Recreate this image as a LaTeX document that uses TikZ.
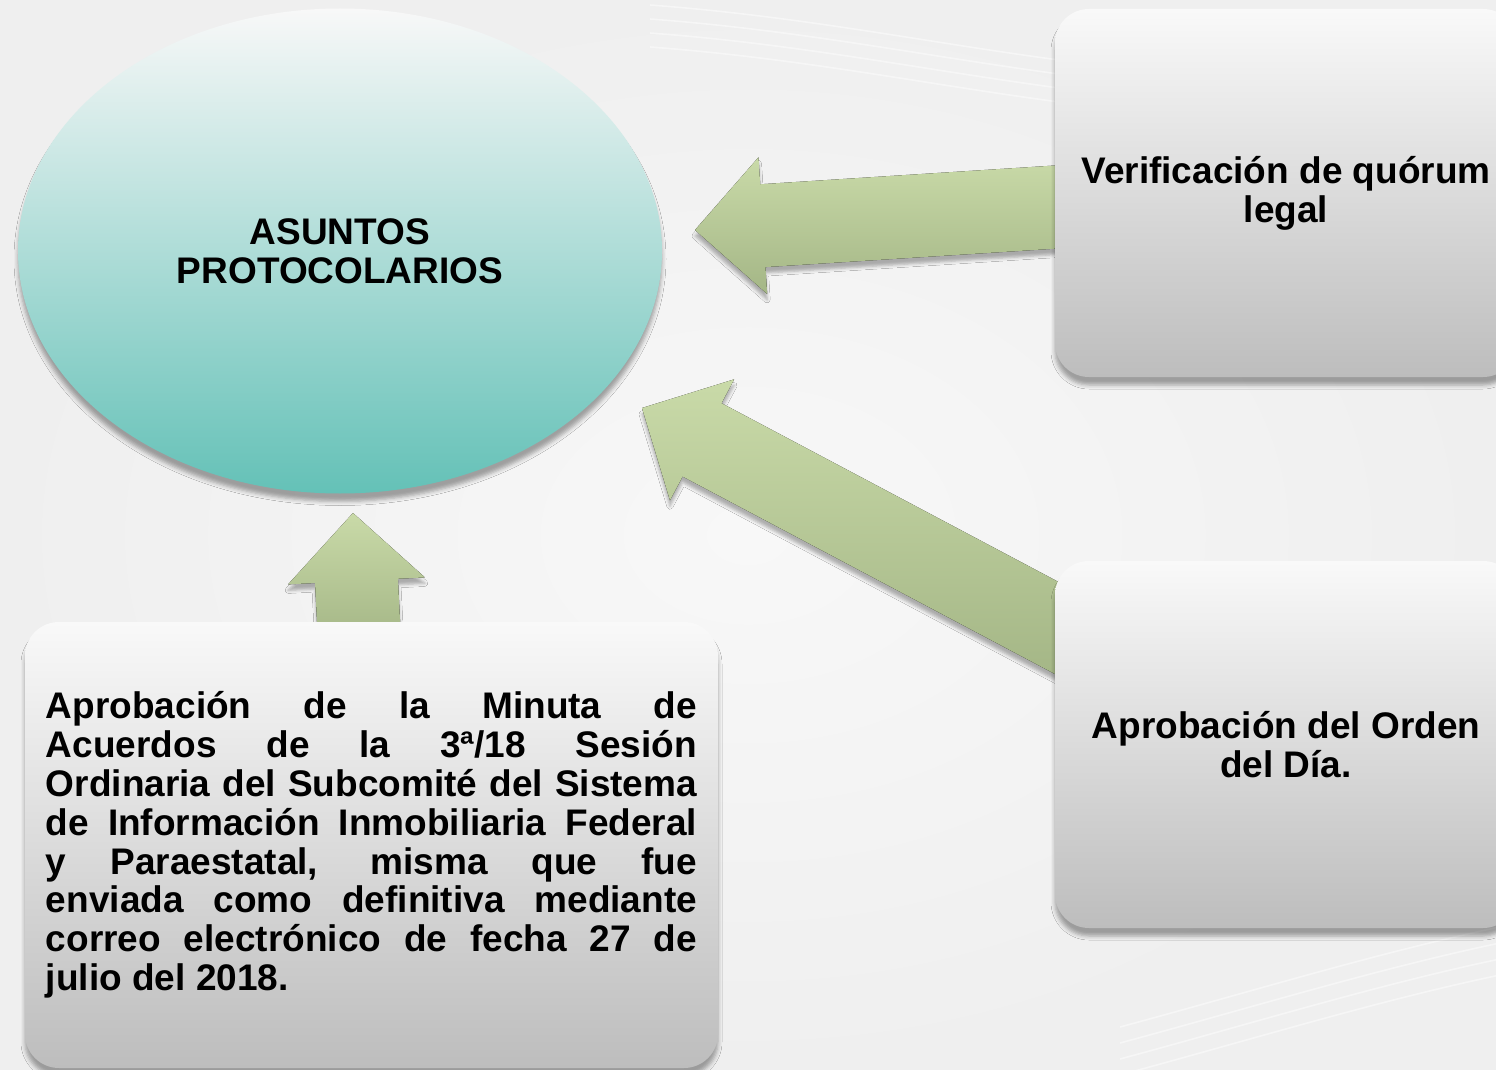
\documentclass[tikz,border=0pt]{standalone}
\usepackage{fontspec}
\setmainfont{Liberation Sans}
\usetikzlibrary{calc,shapes.geometric,shadows.blur}
\tolerance=10000 \hbadness=10000 \hyphenpenalty=10000

\definecolor{fondo}{RGB}{239,239,239}
\definecolor{fondoclaro}{RGB}{248,248,248}
\definecolor{verdeclaro}{RGB}{201,218,168}
\definecolor{verdeoscuro}{RGB}{164,182,134}
\definecolor{cajaclaro}{RGB}{249,249,249}
\definecolor{cajaoscuro}{RGB}{189,189,189}
\definecolor{aguaclaro}{RGB}{248,248,248}
\definecolor{aguamedio}{RGB}{202,231,227}
\definecolor{aguaoscuro}{RGB}{100,193,183}

\newcommand{\letra}{\fontsize{18.5pt}{19.4pt}\selectfont\bfseries}
% block arrow from #1 (tail) to #2 (tip)
\newcommand{\flecha}[2]{%
  \fill[flechaverde] ($(#1)!20.75pt!90:(#2)$) -- ($(#2)!34pt!(#1)!20.75pt!90:(#2)$) -- ($(#2)!34pt!(#1)!34.25pt!90:(#2)$) -- (#2) -- ($(#2)!34pt!(#1)!34.25pt!-90:(#2)$) -- ($(#2)!34pt!(#1)!20.75pt!-90:(#2)$) -- ($(#1)!20.75pt!-90:(#2)$) -- cycle;}

\begin{document}
\begin{tikzpicture}[x=0.5pt,y=0.5pt,yscale=-1,xscale=1,
  caja/.style={rectangle, rounded corners=17pt, top color=cajaclaro, bottom color=cajaoscuro, minimum width=231pt, minimum height=184pt, align=center, font=\letra, blur shadow={shadow xshift=0pt, shadow yshift=-4pt, shadow blur radius=2pt, shadow opacity=35}},
  elipse/.style={ellipse, inner sep=0pt, minimum width=322pt, minimum height=242.5pt, top color=aguaclaro, middle color=aguamedio, bottom color=aguaoscuro, align=center, font=\letra, blur shadow={shadow xshift=0pt, shadow yshift=-4pt, shadow blur radius=2pt, shadow opacity=35}},
  flechaverde/.style={top color=verdeclaro, bottom color=verdeoscuro, blur shadow={shadow xshift=0pt, shadow yshift=-3pt, shadow blur radius=1.5pt, shadow opacity=30}},
  raya/.style={white, line width=0.8pt, opacity=0.45}]
\useasboundingbox (0,0) rectangle (1496,1070);
\clip (0,0) rectangle (1496,1070);

%Shape: Background
\fill[inner color=fondoclaro, outer color=fondo] (0,0) rectangle (1496,1070);
%Curve Lines: swooshes
\foreach \k in {0,1,2,3} {
  \draw[raya] (650,{5+14*\k}) .. controls (850,{20+14*\k}) and (1000,{60+14*\k}) .. (1200,{75+14*\k});
  \draw[raya] (1120,{1075-16*\k}) .. controls (1250,{1040-16*\k}) and (1380,{1000-16*\k}) .. (1500,{975-16*\k});
}

%Shape: Ellipse
\node[elipse] (asuntos) at (340,251) {ASUNTOS\\PROTOCOLARIOS};

%Block Arrows
\coordinate (colaQ) at (1080,205.5);
\coordinate (puntaQ) at (695,230);
\coordinate (colaO) at (1085,643);
\coordinate (puntaO) at (642,408);
\coordinate (colaM) at (359.5,640);
\coordinate (puntaM) at (353,513);
\flecha{colaQ}{puntaQ}
\flecha{colaO}{puntaO}
\flecha{colaM}{puntaM}

%Shape: Rounded Rect
\node[caja] (quorum) at (1286,193) {Verificación de quórum\\legal};
%Shape: Rounded Rect
\node[caja, minimum height=183.5pt] (orden) at (1286,744.5) {Aprobación del Orden\\del Día.};
%Shape: Rounded Rect
\node[caja, minimum width=346.5pt, minimum height=223pt, text width=325.5pt, align=justify] (minuta) at (371.5,845) {Aprobación de la Minuta de\linebreak Acuerdos de la 3ª/18 Sesión\linebreak Ordinaria del Subcomité del Sistema\linebreak de Información Inmobiliaria Federal\linebreak y Paraestatal, misma que fue\linebreak enviada como definitiva mediante\linebreak correo electrónico de fecha 27 de\linebreak julio del 2018.};

\end{tikzpicture}
\end{document}
